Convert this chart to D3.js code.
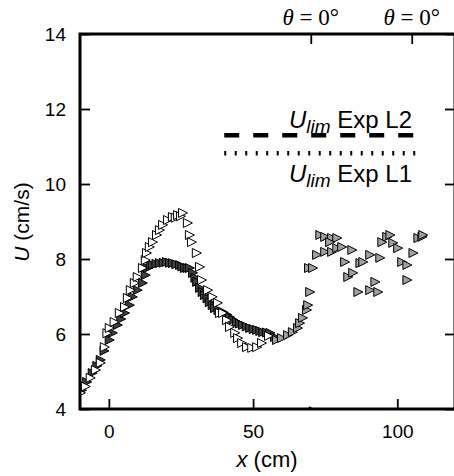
<!DOCTYPE html>
<html lang="en">
<head>
  <meta charset="UTF-8" />
  <title>U vs x</title>
  <script src="https://d3js.org/d3.v7.min.js"></script>
  <style>
    body {
      margin: 0;
      background-color: white;
    }
    svg {
      display: block;
      font-family: "Liberation Sans", sans-serif;
    }
    .tick-label {
      font-size: 19px;
      fill: black;
    }
  </style>
</head>
<body>
  <svg width="454" height="476"></svg>

  <script>
    // white triangles (upper branch)
    const whiteX = [-9.7, -8.0, -6.3, -4.5, -2.8, -1.4, -0.5, 0.3, 2.0, 3.8, 5.6, 6.6, 7.6, 9.0, 10.0, 11.8, 12.8,
      13.2, 14.2, 15.3, 16.7, 17.7, 18.8, 20.5, 22.2, 23.2, 24.0, 25.0, 25.7, 27.4, 28.1, 28.8, 30.5, 31.6, 32.3,
      34.4, 36.0, 37.8, 38.5, 39.6, 41.0, 42.0, 43.8, 44.8, 46.2, 47.9, 49.7, 51.4, 53.1, 55.5];
    const whiteY = [4.43, 4.60, 4.83, 5.04, 5.23, 5.65, 6.02, 6.16, 6.32, 6.56, 6.72, 6.96, 7.17, 7.36, 7.52, 7.76, 7.97,
      8.16, 8.32, 8.45, 8.64, 8.77, 8.91, 9.04, 9.12, 9.10, 9.17, 9.14, 9.23, 8.96, 8.64, 8.45, 8.16, 7.79, 7.44,
      7.17, 6.99, 6.83, 6.56, 6.56, 6.37, 6.19, 6.03, 5.89, 5.76, 5.65, 5.63, 5.65, 5.76, 5.95];

    // dark grey triangles (lower branch)
    const darkX = [-9.3, -7.5, -5.6, -4.0, -2.8, -1.5, 0.3, 1.4, 3.1, 4.3, 5.6, 7.3, 8.3, 10.0, 11.8, 12.8, 13.5,
      14.5, 15.3, 16.5, 17.7, 19.0, 20.1, 21.2, 22.2, 23.4, 24.7, 25.5, 26.4, 27.3, 28.1, 29.2, 30.0, 30.6, 31.6,
      32.5, 33.3, 34.2, 35.0, 36.0, 36.8, 38.0, 39.6, 41.0, 42.0, 43.2, 44.4, 45.5, 46.5, 47.8, 49.0, 50.2, 51.4,
      52.5, 53.5, 54.8, 56.0, 57.6];
    const darkY = [4.50, 4.72, 4.96, 5.15, 5.31, 5.55, 5.84, 6.03, 6.24, 6.40, 6.56, 6.77, 6.99, 7.17, 7.36, 7.57, 7.76,
      7.80, 7.84, 7.87, 7.89, 7.90, 7.92, 7.90, 7.89, 7.86, 7.84, 7.80, 7.76, 7.76, 7.76, 7.63, 7.50, 7.39, 7.23,
      7.12, 7.04, 6.95, 6.85, 6.77, 6.69, 6.64, 6.59, 6.52, 6.45, 6.38, 6.32, 6.28, 6.24, 6.20, 6.16, 6.13, 6.11,
      6.08, 6.05, 6.04, 6.03, 5.92];

    // light grey triangles (downstream part)
    const greyX = [58.3, 60.0, 62.1, 63.8, 65.6, 66.3, 67.3, 68.7, 69.1, 69.8, 69.4, 71.0,
      73.3, 75.0, 77.4, 79.2, 76.7, 72.2, 75.0, 77.4, 79.2, 80.9, 84.4, 70.8, 81.9, 87.2, 88.2, 90.6, 94.1,
      83.0, 84.7, 86.5, 90.6, 92.4, 93.4, 96.5, 97.6, 94.8, 98.6, 100.3, 105.6, 101.7, 103.5, 103.5,
      107.3, 108.7, 109.0];
    const greyY = [5.84, 5.89, 5.97, 6.05, 6.16, 6.29, 6.43, 6.64, 6.77, 7.12, 7.76, 3.94,
      8.64, 8.59, 8.56, 8.56, 8.45, 8.11, 8.19, 8.19, 8.29, 8.32, 8.24, 7.76, 7.92, 7.89, 7.92, 8.11, 8.03,
      7.52, 7.63, 7.12, 7.17, 7.39, 7.12, 8.59, 8.64, 8.45, 8.43, 8.29, 8.16, 7.92, 7.84, 7.44,
      8.56, 8.59, 8.64];

    // U_lim reference levels
    const ulimL2 = 11.3;
    const ulimL1 = 10.82;
    const ulimSpanL2 = [40, 110];
    const ulimSpanL1 = [40, 107];

    const xTicks = [0, 50, 100];
    const yTicks = [4, 6, 8, 10, 12, 14];
    const topTicks = [70, 105];

    const svg = d3.select("svg");
    const pLeft = 80, pRight = 455, pTop = 34, pBottom = 409;

    const x = d3.scaleLinear().domain([-10, 120]).range([pLeft, pRight]);
    const y = d3.scaleLinear().domain([4, 14]).range([pBottom, pTop]);

    svg.append("defs").append("clipPath")
      .attr("id", "plot-clip")
      .append("rect")
      .attr("x", pLeft).attr("y", pTop)
      .attr("width", pRight - pLeft).attr("height", pBottom - pTop);

    const plot = svg.append("g").attr("clip-path", "url(#plot-clip)");

    // right-pointing triangle
    const tri = d3.symbol().type({
      draw(ctx, size) {
        const h = 4.5;
        ctx.moveTo(h, 0);
        ctx.lineTo(-h, -h);
        ctx.lineTo(-h, h);
        ctx.closePath();
      }
    })();

    function drawSeries(xs, ys, fill) {
      plot.append("g")
        .selectAll("path")
        .data(xs.map((d, i) => [d, ys[i]]))
        .join("path")
        .attr("d", tri)
        .attr("transform", d => `translate(${x(d[0])},${y(d[1])})`)
        .attr("fill", fill)
        .attr("stroke", "black")
        .attr("stroke-width", 1);
    }

    drawSeries(darkX, darkY, "#404040");
    drawSeries(whiteX, whiteY, "white");
    drawSeries(greyX, greyY, "#a0a0a0");

    // U_lim lines
    plot.append("line")
      .attr("x1", x(ulimSpanL2[0])).attr("x2", x(ulimSpanL2[1]))
      .attr("y1", y(ulimL2)).attr("y2", y(ulimL2))
      .attr("stroke", "black").attr("stroke-width", 4.5)
      .attr("stroke-dasharray", "15,14");

    plot.append("line")
      .attr("x1", x(ulimSpanL1[0])).attr("x2", x(ulimSpanL1[1]))
      .attr("y1", y(ulimL1)).attr("y2", y(ulimL1))
      .attr("stroke", "black").attr("stroke-width", 4.5)
      .attr("stroke-dasharray", "2,8.5");

    function ulimLabel(yPos, tag) {
      const t = svg.append("text")
        .attr("x", 412).attr("y", yPos)
        .attr("text-anchor", "end")
        .style("font-size", "24px");
      t.append("tspan").attr("font-style", "italic").text("U");
      t.append("tspan").attr("font-style", "italic").attr("dy", 5).style("font-size", "19px").text("lim");
      t.append("tspan").attr("dy", -5).text(" Exp " + tag);
    }
    ulimLabel(128, "L2");
    ulimLabel(182, "L1");

    // axes: ticks point inward
    const xAxis = svg.append("g").attr("transform", `translate(0,${pBottom})`)
      .call(d3.axisBottom(x).tickValues(xTicks).tickSizeInner(-10).tickSizeOuter(0).tickPadding(16));
    const yAxis = svg.append("g").attr("transform", `translate(${pLeft},0)`)
      .call(d3.axisLeft(y).tickValues(yTicks).tickSizeInner(-10).tickSizeOuter(0).tickPadding(14));
    const yAxisR = svg.append("g").attr("transform", `translate(${pRight},0)`)
      .call(d3.axisRight(y).tickValues(yTicks).tickSizeInner(-10).tickSizeOuter(0).tickFormat(""));
    const xAxisTop = svg.append("g").attr("transform", `translate(0,${pTop})`)
      .call(d3.axisTop(x).tickValues(topTicks).tickSizeInner(-10).tickSizeOuter(0).tickFormat(""));

    [xAxis, yAxis, yAxisR, xAxisTop].forEach(a => {
      a.select(".domain").remove();
      a.selectAll(".tick line").attr("stroke", "black").attr("stroke-width", 1.8);
      a.selectAll(".tick text").attr("class", "tick-label").attr("font-family", null).attr("font-size", null);
    });

    // top labels
    topTicks.forEach(v => {
      const t = svg.append("text")
        .attr("x", x(v)).attr("y", 25)
        .attr("text-anchor", "middle")
        .style("font-family", "'Liberation Serif', serif")
        .style("font-size", "23px");
      t.append("tspan").attr("font-style", "italic").text("θ");
      t.append("tspan").text(" = 0°");
    });

    // frame
    svg.append("rect")
      .attr("x", pLeft).attr("y", pTop)
      .attr("width", pRight - pLeft).attr("height", pBottom - pTop)
      .attr("fill", "none").attr("stroke", "black").attr("stroke-width", 3);

    // axis titles
    const xt = svg.append("text")
      .attr("x", 267).attr("y", 467)
      .attr("text-anchor", "middle")
      .style("font-size", "22px");
    xt.append("tspan").attr("font-style", "italic").text("x");
    xt.append("tspan").text(" (cm)");

    const yt = svg.append("text")
      .attr("transform", "translate(29,222) rotate(-90)")
      .attr("text-anchor", "middle")
      .style("font-size", "21px");
    yt.append("tspan").attr("font-style", "italic").text("U");
    yt.append("tspan").text(" (cm/s)");
  </script>
</body>
</html>
